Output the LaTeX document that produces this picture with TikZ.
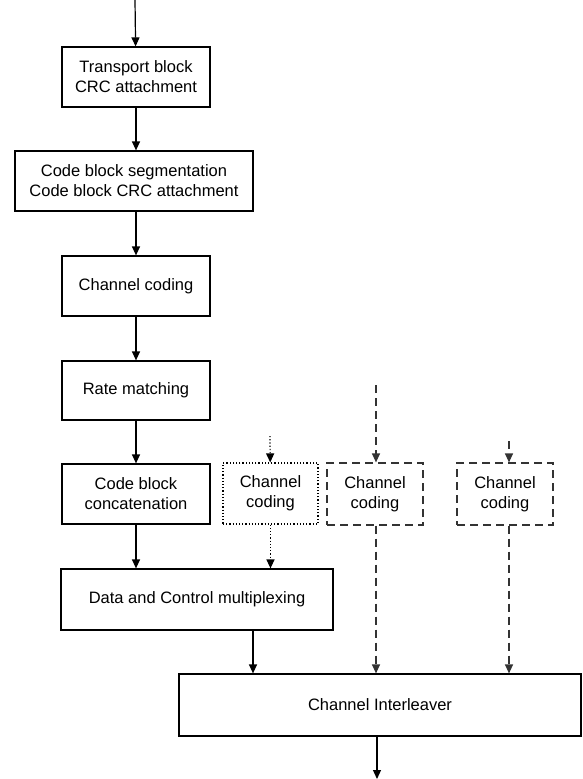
\documentclass[tikz,border=0pt]{standalone}
\usepackage{fontspec}
\setmainfont{Liberation Sans}
\usetikzlibrary{arrows.meta}

\tikzset{
  blk/.style={draw,line width=1.2pt,align=center,inner sep=0pt,
    font=\fontsize{16.5}{20}\selectfont},
  arr/.style={line width=1.2pt,-{Triangle[width=8pt,length=9pt]}},
  dotbox/.style={blk,dotted},
  dashbox/.style={blk,dash pattern=on 8pt off 5pt,draw=black!80},
}

\begin{document}
\begin{tikzpicture}[x=1pt,y=-1pt]
    \useasboundingbox (0,0) rectangle (582,779);
    % main chain
    \node[blk,minimum width=148pt,minimum height=60pt] (tb) at (136,77) {Transport block\\CRC attachment};
    \node[blk,minimum width=238pt,minimum height=60pt] (cbs) at (134,181) {Code block segmentation\\Code block CRC attachment};
    \node[blk,minimum width=148pt,minimum height=60pt] (cc) at (136,286) {Channel coding};
    \node[blk,minimum width=148pt,minimum height=59pt] (rm) at (136,390.5) {Rate matching};
    \node[blk,minimum width=148pt,minimum height=60pt] (cbc) at (136,494) {Code block\\concatenation};
    \node[blk,minimum width=272pt,minimum height=61pt] (dcm) at (197,599.5) {Data and Control multiplexing};
    \node[blk,minimum width=402pt,minimum height=62pt] (ci) at (380,705) {Channel Interleaver};
    % control channel coding
    \node[dotbox,minimum width=95pt,minimum height=61pt] (ccq) at (270.5,493.5) {Channel\\coding};
    \node[dashbox,minimum width=96pt,minimum height=62pt] (ccri) at (375,494) {Channel\\coding};
    \node[dashbox,minimum width=96pt,minimum height=62pt] (ccack) at (505,494) {Channel\\coding};
    \coordinate (in) at (135,0);
    \coordinate (out) at (377,779);
    \coordinate (inq) at (270,436);
    \coordinate (inri) at (376,385);
    \coordinate (inack) at (509,441);
    \draw[arr] (in) -- (tb);
    \draw[arr] (tb) -- (tb |- cbs.north);
    \draw[arr] (cbs.south -| tb) -- (cc);
    \draw[arr] (cc) -- (rm);
    \draw[arr] (rm) -- (cbc);
    \draw[arr] (cbc) -- (cbc |- dcm.north);
    \draw[arr] (253,0 |- dcm.south) -- (253,0 |- ci.north);
    \draw[arr] (ci.south -| out) -- (out);
    \draw[arr,dotted] (inq) -- (ccq);
    \draw[arr,dotted] (ccq) -- (ccq |- dcm.north);
    \draw[arr,dash pattern=on 8pt off 5pt,draw=black!80] (inri) -- (inri |- ccri.north);
    \draw[arr,dash pattern=on 8pt off 5pt,draw=black!80] (inri |- ccri.south) -- (inri |- ci.north);
    \draw[arr,dash pattern=on 8pt off 5pt,draw=black!80] (inack) -- (inack |- ccack.north);
    \draw[arr,dash pattern=on 8pt off 5pt,draw=black!80] (inack |- ccack.south) -- (inack |- ci.north);
  \end{tikzpicture}
\end{document}
